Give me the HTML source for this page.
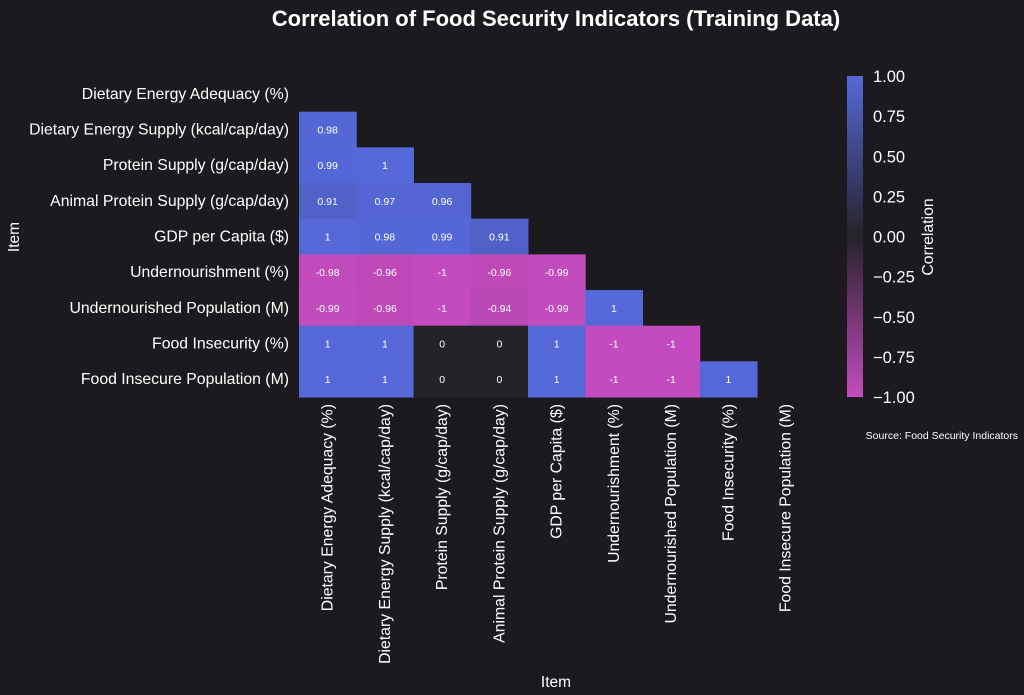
<!DOCTYPE html>
<html><head><meta charset="utf-8"><style>
html,body{margin:0;padding:0;background:#1c1a1e;}
svg{display:block;font-family:"Liberation Sans",sans-serif;}
</style></head><body>
<svg id="chart" width="1024" height="695" viewBox="0 0 1024 695">
<rect width="1024" height="695" fill="#1c1a1e"/>
<text x="556" y="26" text-anchor="middle" fill="#fff" font-size="22" font-weight="bold">Correlation of Food Security Indicators (Training Data)</text>
<g id="cells"></g><g id="ylabels"></g><g id="xlabels"></g><g id="cbar"></g>
<text x="556" y="687" text-anchor="middle" fill="#fff" font-size="15.5">Item</text>
<text transform="translate(19,237) rotate(-90)" text-anchor="middle" fill="#fff" font-size="15.5">Item</text>
<text x="1018" y="439" text-anchor="end" fill="#fff" font-size="10.5">Source: Food Security Indicators</text>
</svg>
<script>
const items=["Dietary Energy Adequacy (%)","Dietary Energy Supply (kcal/cap/day)","Protein Supply (g/cap/day)","Animal Protein Supply (g/cap/day)","GDP per Capita ($)","Undernourishment (%)","Undernourished Population (M)","Food Insecurity (%)","Food Insecure Population (M)"];
const row1=[0.98];
const row2=[0.99,1];
const row3=[0.91,0.97,0.96];
const row4=[1,0.98,0.99,0.91];
const row5=[-0.98,-0.96,-1,-0.96,-0.99];
const row6=[-0.99,-0.96,-1,-0.94,-0.99,1];
const row7=[1,1,0,0,1,-1,-1];
const row8=[1,1,0,0,1,-1,-1,1];
const rows=[[],row1,row2,row3,row4,row5,row6,row7,row8];
const cbTicks=[1,0.75,0.5,0.25,0,-0.25,-0.5,-0.75,-1];
const NS="http://www.w3.org/2000/svg";
const X0=299,Y0=76,CW=57.25,RH=35.67;
const xs=i=>X0+i*CW, ys=j=>Y0+j*RH;
const cbY=v=>76+(1-v)/2*321;
function col(v){
  const neg=[196,75,191],mid=[37,35,42],pos=[84,104,216];
  const a=v<0?neg:pos,t=Math.abs(v);
  return "rgb("+mid.map((m,k)=>Math.round(m+(a[k]-m)*t)).join(",")+")";
}
function mk(tag,attrs,parent){const e=document.createElementNS(NS,tag);for(const k in attrs)e.setAttribute(k,attrs[k]);parent.appendChild(e);return e;}
const cells=document.getElementById("cells");
rows.forEach((r,j)=>r.forEach((v,i)=>{
  const rc=mk("rect",{x:xs(i),y:ys(j),width:CW+0.5,height:RH+0.5,fill:col(v)},cells);
  
  
  const t=mk("text",{x:xs(i)+CW/2,y:ys(j)+RH/2+4,"text-anchor":"middle",fill:"#fff","font-size":"10.5"},cells);
  t.textContent=String(v);
  
  
}));
const yl=document.getElementById("ylabels"),xl=document.getElementById("xlabels");
items.forEach((s,j)=>{
  const t=mk("text",{x:289,y:ys(j)+RH/2+5,"text-anchor":"end",fill:"#fff","font-size":"15.8"},yl);
  t.textContent=s;
  
  
  const u=mk("text",{transform:"translate("+(xs(j)+CW/2+5)+",404) rotate(-90)","text-anchor":"end",fill:"#fff","font-size":"15.8"},xl);
  u.textContent=s;
  
  
});
const cb=document.getElementById("cbar");
const defs=mk("defs",{},cb);
const g=mk("linearGradient",{id:"cg",x1:0,y1:0,x2:0,y2:1},defs);
[1,0.5,0,-0.5,-1].forEach(v=>mk("stop",{offset:(1-v)/2,"stop-color":col(v)},g));
const bar=mk("rect",{x:847,y:76,width:16,height:321,fill:"url(#cg)"},cb);


cbTicks.forEach(v=>{
  const t=mk("text",{x:873,y:cbY(v)+6,fill:"#fff","font-size":"16.5"},cb);
  t.textContent=(v<0?"\u2212":"")+Math.abs(v).toFixed(2);
  
  
});
const ct=mk("text",{transform:"translate(933,237) rotate(-90)","text-anchor":"middle",fill:"#fff","font-size":"15.8"},cb);
ct.textContent="Correlation";


</script>
</body></html>
